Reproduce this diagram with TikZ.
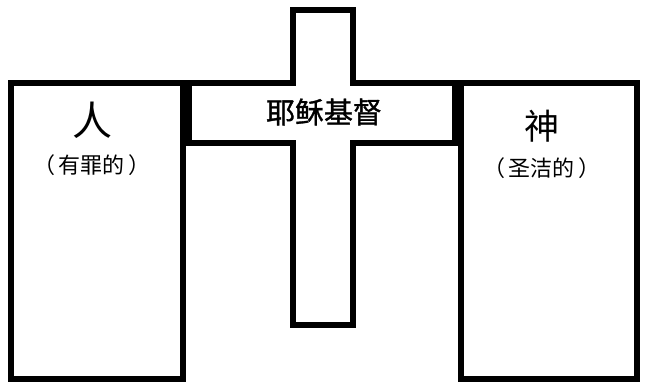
\documentclass[tikz,border=0pt]{standalone}
\usepackage{fontspec}
\newfontfamily\cjk{Noto Sans CJK SC}
\newfontfamily\cjkmid[FakeBold=1.2]{Noto Sans CJK SC}
\usepackage{tikz}
\usetikzlibrary{positioning}
\tikzset{
  wall/.style={draw, line width=6pt, line join=miter},
  bigtext/.style={font=\cjk\fontsize{40}{44}\selectfont, inner sep=0pt},
  subtext/.style={font=\cjk\fontsize{22}{24}\selectfont, inner sep=0pt}
}
\begin{document}
\begin{tikzpicture}[x=1pt, y=-1pt]
            \useasboundingbox (0,0) rectangle (645,382);
            % Shapes
            \draw[wall] (11,83) rectangle (183,379);
            \draw[wall] (461,83) rectangle (637,379);
            \draw[wall, fill=white] (293,10) -- (353,10) -- (353,83) -- (455,83) -- (455,143)
                -- (353,143) -- (353,325) -- (293,325) -- (293,143) -- (189,143)
                -- (189,83) -- (293,83) -- cycle;
            % Nodes
            \node[bigtext] (man) at (92,120) {人};
            \node[subtext, below=16pt of man] (sinful) {（\,有罪的\,）};
            \node[bigtext, font=\cjkmid\fontsize{29}{32}\selectfont] (jesus) at (324,112) {耶稣基督};
            \node[bigtext, font=\cjk\fontsize{35}{40}\selectfont] (god) at (542,126) {神};
            \node[subtext, below=15pt of god] (holy) {（\,圣洁的\,）};
        \end{tikzpicture}
\end{document}
